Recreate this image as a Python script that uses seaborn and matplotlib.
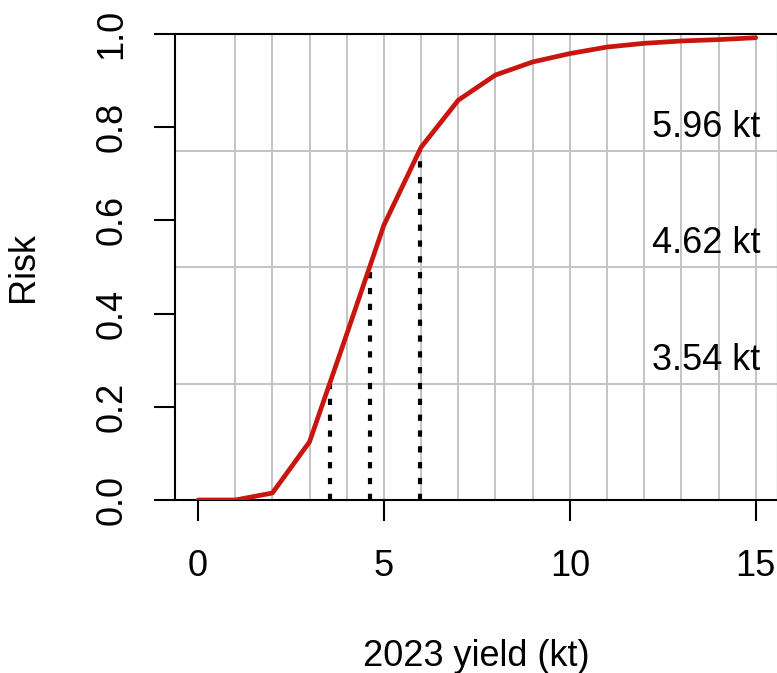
import numpy as np
import pandas as pd
import seaborn as sns
import matplotlib.pyplot as plt

# cumulative risk curve
yield_kt = [0, 1, 2, 3, 4, 5, 6, 7, 8, 9, 10, 11, 12, 13, 14, 15]
risk = [0.0, 0.0, 0.015, 0.125, 0.356, 0.59, 0.757, 0.858, 0.912, 0.94,
        0.958, 0.972, 0.98, 0.985, 0.988, 0.992]

# quantiles marked with dotted lines
risk_levels = [0.25, 0.5, 0.75]
quantile_kt = [3.54, 4.62, 5.96]

x_ticks = [0, 5, 10, 15]
y_ticks = [0.0, 0.2, 0.4, 0.6, 0.8, 1.0]
grid_x = list(range(1, 16))
grid_y = [0.25, 0.5, 0.75]


def main():
    sns.set_theme(style="white")
    plt.rcParams["font.family"] = ["Liberation Sans", "DejaVu Sans"]
    plt.rcParams["text.color"] = "black"
    plt.rcParams["axes.labelcolor"] = "black"
    plt.rcParams["xtick.color"] = "black"
    plt.rcParams["ytick.color"] = "black"

    df = pd.DataFrame({"yield": yield_kt, "risk": risk})

    fig = plt.figure(figsize=(7.77, 6.73), dpi=100)
    ax = fig.add_axes([175 / 777, 173 / 673, 603 / 777, 466 / 673])

    # light grid
    for gx in grid_x:
        ax.axvline(gx, color="#c4c4c4", lw=1.4, zorder=1)
    for gy in grid_y:
        ax.axhline(gy, color="#c4c4c4", lw=1.4, zorder=1)

    # dotted quantile markers
    ax.vlines(quantile_kt, 0, risk_levels, colors="black", lw=3.0,
              linestyles=(0, (1.5, 2.3)), zorder=2)

    sns.lineplot(data=df, x="yield", y="risk", ax=ax, color="#c8160f",
                 lw=3.4, zorder=3)

    for q, lvl in zip(quantile_kt, risk_levels):
        ax.text(15.12, lvl + 0.05, f"{q:.2f} kt", ha="right", va="center",
                fontsize=26, color="black")

    ax.set_xlim(-0.62, 15.6)
    ax.set_ylim(0, 1)
    ax.set_xticks(x_ticks)
    ax.set_yticks(y_ticks)
    ax.set_xticklabels([str(t) for t in x_ticks], fontsize=26)
    ax.set_yticklabels([f"{t:.1f}" for t in y_ticks], fontsize=26,
                       rotation=90, va="center")
    ax.tick_params(axis="both", direction="out", length=15, width=1.5,
                   color="black", left=True, bottom=True)
    ax.tick_params(axis="x", pad=20)
    ax.tick_params(axis="y", pad=18)

    for s in ax.spines.values():
        s.set_color("black")
        s.set_linewidth(1.5)
        s.set_visible(True)

    ax.set_xlabel("2023 yield (kt)", fontsize=26, labelpad=40)
    ax.set_ylabel("Risk", fontsize=26, labelpad=38)

    plt.savefig("out.png", dpi=100)


if __name__ == "__main__":
    main()
